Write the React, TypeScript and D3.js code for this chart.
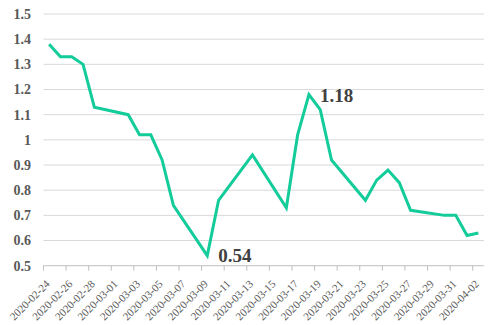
import React from 'react';
import * as d3 from 'd3';

// trading days and values
const dates = [
  '2020-02-24', '2020-02-25', '2020-02-26', '2020-02-27', '2020-02-28',
  '2020-03-02', '2020-03-03', '2020-03-04', '2020-03-05', '2020-03-06',
  '2020-03-09', '2020-03-10', '2020-03-13', '2020-03-16', '2020-03-17',
  '2020-03-18', '2020-03-19', '2020-03-20', '2020-03-23', '2020-03-24',
  '2020-03-25', '2020-03-26', '2020-03-27', '2020-03-30', '2020-03-31',
  '2020-04-01', '2020-04-02',
];
const values = [
  1.38, 1.33, 1.33, 1.30, 1.13,
  1.10, 1.02, 1.02, 0.92, 0.74,
  0.54, 0.76, 0.94, 0.73, 1.02,
  1.18, 1.12, 0.92, 0.76, 0.84,
  0.88, 0.83, 0.72, 0.70, 0.70,
  0.62, 0.63,
];
const yTicks = [0.5, 0.6, 0.7, 0.8, 0.9, 1, 1.1, 1.2, 1.3, 1.4, 1.5];
const labelled = ['2020-03-09', '2020-03-18'];

const width = 500;
const height = 325;
const margin = { top: 14, right: 16, bottom: 59.3, left: 43.5 };

const parse = d3.utcParse('%Y-%m-%d');
const fmt = d3.utcFormat('%Y-%m-%d');

export default function App() {
  const start = parse('2020-02-24') as Date;
  const end = d3.utcDay.offset(parse('2020-04-02') as Date, 1);

  const x = d3.scaleUtc().domain([start, end]).range([margin.left, width - margin.right]);
  const y = d3.scaleLinear().domain([0.5, 1.5]).range([height - margin.bottom, margin.top]);

  // points sit in the middle of their day
  const mid = (s: string) => x(d3.utcHour.offset(parse(s) as Date, 12));

  const data = dates.map((d, i) => ({ d, v: values[i] }));
  const line = d3.line<{ d: string; v: number }>()
    .x((p) => mid(p.d))
    .y((p) => y(p.v));

  const xTicks = d3.range(0, 40, 2).map((k) => d3.utcDay.offset(start, k));
  const y0 = y(0.5);

  return (
    <svg width={width} height={height}
      style={{ position: 'absolute', left: 0, top: 0, background: '#fff' }}
      fontFamily="'Liberation Serif', 'Times New Roman', serif">
      {/* grid */}
      {yTicks.slice(1).map((t) => (
        <line key={t} x1={margin.left} x2={width - margin.right} y1={y(t)} y2={y(t)}
          stroke="#d9d9d9" strokeWidth={1} />
      ))}
      {/* y labels */}
      {yTicks.map((t) => (
        <text key={'l' + t} x={31} y={y(t)} dy="0.35em" textAnchor="end"
          fontSize={14} fontWeight="bold" fill="#595959">{String(t)}</text>
      ))}
      {/* x axis */}
      <line x1={margin.left} x2={width - margin.right} y1={y0} y2={y0} stroke="#bfbfbf" />
      {xTicks.map((t) => (
        <g key={fmt(t)} transform={`translate(${x(t)},${y0})`}>
          <line y1={0} y2={5} stroke="#bfbfbf" />
          <text transform="translate(7,19) rotate(-45)" textAnchor="end" fontSize={11}
            fill="#595959">{fmt(t)}</text>
        </g>
      ))}
      <path d={line(data) ?? ''} fill="none" stroke="#13cc9a" strokeWidth={3}
        strokeLinejoin="miter" />
      {data.filter((p) => labelled.includes(p.d)).map((p) => (
        <text key={'v' + p.d} x={mid(p.d) + 11} y={p.v < 0.6 ? y(p.v) + 6 : y(p.v) + 7}
          fontSize={19} fontWeight="bold" fill="#404040">{p.v.toFixed(2)}</text>
      ))}
    </svg>
  );
}
